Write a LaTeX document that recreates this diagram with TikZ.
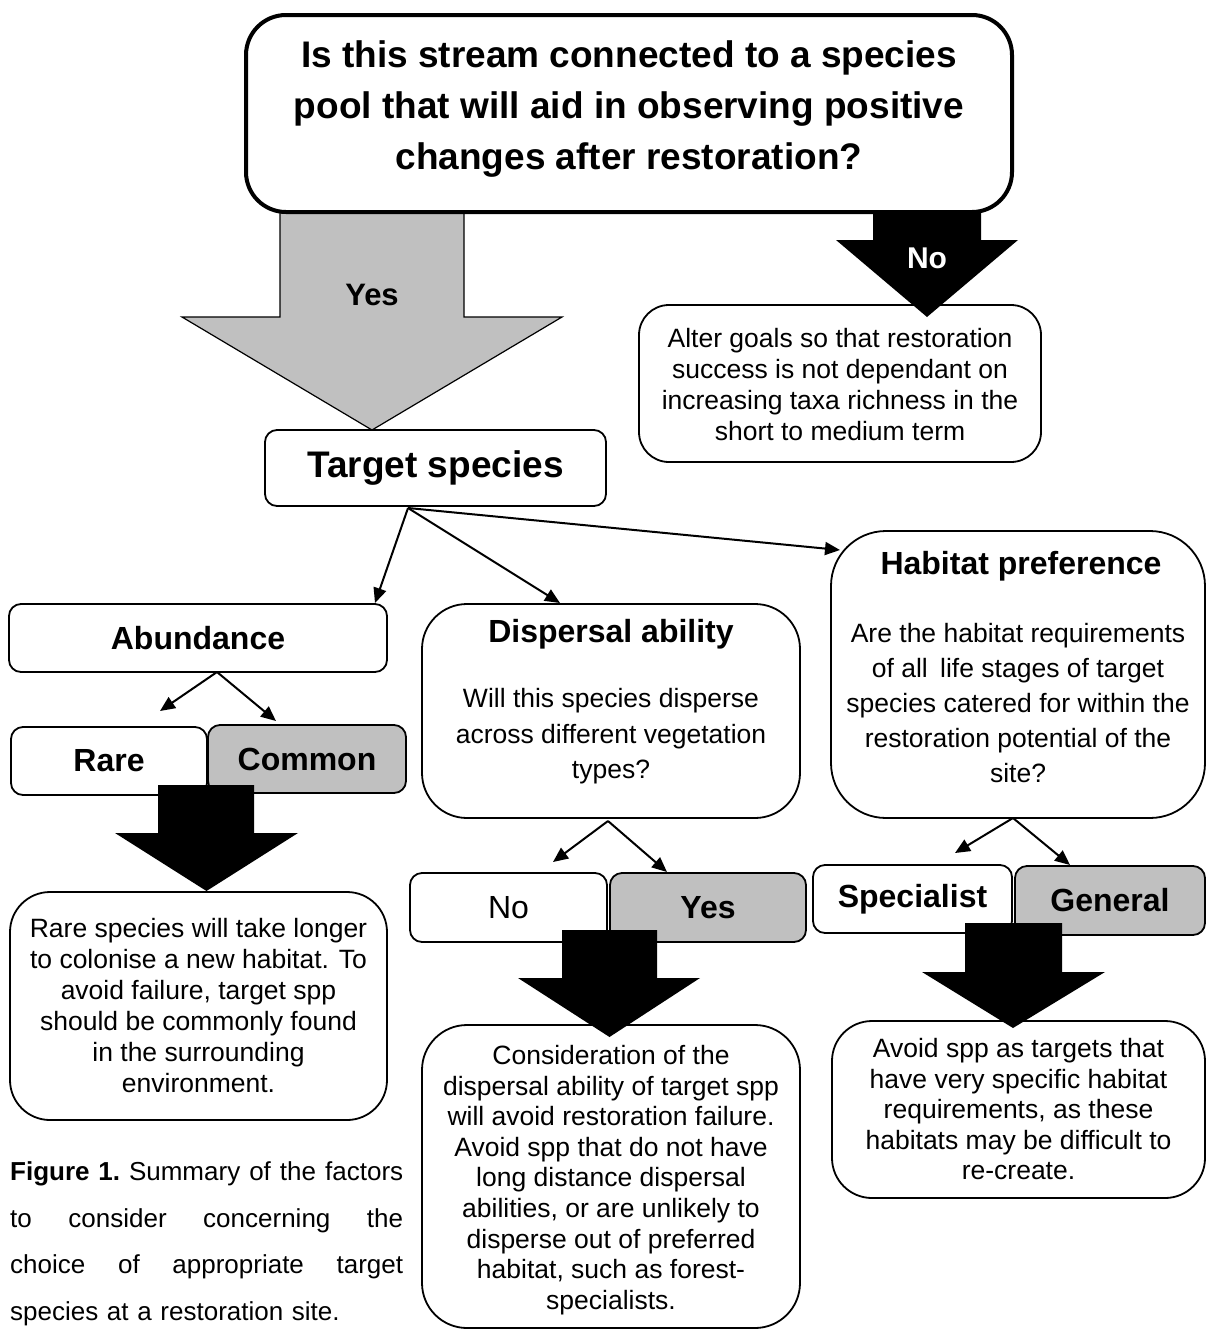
\documentclass[tikz,border=0pt]{standalone}
\usepackage{fontspec}
\setmainfont{Liberation Sans}
\usetikzlibrary{arrows.meta}
\definecolor{boxgray}{HTML}{C0C0C0}
\newcommand\fsz[2]{\fontsize{#1}{#2}\selectfont}
\newcommand\jsp{\hspace{5pt plus 1fill}}
\begin{document}
\begin{tikzpicture}[x=1pt,y=-1pt,
  box/.style={draw, line width=1.8pt, fill=white, rounded corners=12pt, inner sep=0pt},
  graybox/.style={box, fill=boxgray},
  txt/.style={align=center, inner sep=0pt},
  ttl/.style={txt, font=\bfseries\fsz{32}{38}},
  body/.style={txt, font=\fsz{26.5}{31}},
  conn/.style={line width=2pt, -{Triangle[length=15pt,width=13pt]}},
  blk/.style={fill=black},
]
\fill[white] (0,0) rectangle (1206,1331);
\useasboundingbox (0,0) rectangle (1206,1331);

% Yes arrow
\draw[line width=1.2pt, fill=boxgray] (280,212) -- (464,212) -- (464,317) -- (562,317) -- (372,430) -- (182,317) -- (280,317) -- cycle;
\node[txt, font=\bfseries\fsz{31}{36}] (yeslbl) at (372,295) {Yes};

% Alter goals box
\node[box, rounded corners=30pt, minimum width=402pt, minimum height=157pt] (alter) at (840,383.5) {};
\node[body] (altert) at (840,384.5) {Alter goals so that restoration\\success is not dependant on\\increasing taxa richness in the\\short to medium term};

% No arrow
\fill[blk] (873,211) -- (981,211) -- (981,240) -- (1018,240) -- (927,317) -- (836,240) -- (873,240) -- cycle;
\node[txt, font=\bfseries\fsz{30}{36}, text=white] (nolbl) at (927,258) {No};

% Top question box
\node[box, line width=4pt, rounded corners=40pt, minimum width=766pt, minimum height=197pt] (top) at (629,113.5) {};
\node[txt, font=\bfseries\fsz{37}{51}] (topt) at (629,109) {Is this stream connected to a species\\pool that will aid in observing positive\\changes after restoration?};

% Target species
\node[box, minimum width=341pt, minimum height=76pt, font=\bfseries\fsz{37}{44}] (target) at (435.5,468) {Target species};

% Abundance branch
\node[box, minimum width=378pt, minimum height=68pt, font=\bfseries\fsz{32}{38}] (abund) at (198,638) {Abundance};
\node[box, minimum width=196pt, minimum height=68pt, font=\bfseries\fsz{32}{38}] (rare) at (109,761) {Rare};
\node[graybox, minimum width=198pt, minimum height=68pt, font=\bfseries\fsz{32}{38}] (common) at (307,759) {Common};
\node[box, rounded corners=40pt, minimum width=377pt, minimum height=228pt] (rarebox) at (198.5,1006) {};
\node[body] (rareboxt) at (198.5,1005.5) {Rare species will take longer\\to colonise a new habitat. To\\avoid failure, target spp\\should be commonly found\\in the surrounding\\environment.};

% Dispersal branch
\node[box, rounded corners=45pt, minimum width=378pt, minimum height=214pt] (disp) at (611,711) {};
\node[ttl] (dispt) at (611,634) {Dispersal ability};
\node[txt, font=\fsz{26.5}{35.5}] (dispb) at (611,736.5) {Will this species disperse\\across different vegetation\\types?};
\node[box, minimum width=197pt, minimum height=69pt, font=\fsz{32}{38}] (no) at (508.5,907.5) {No};
\node[graybox, minimum width=196pt, minimum height=69pt, font=\bfseries\fsz{32}{38}] (yes) at (708,907.5) {Yes};
\node[box, rounded corners=45pt, minimum width=378pt, minimum height=303pt] (consider) at (611,1176.5) {};
\node[txt, font=\fsz{26.5}{30.6}] (considert) at (611,1180) {Consideration of the\\dispersal ability of target spp\\will avoid restoration failure.\\Avoid spp that do not have\\long distance dispersal\\abilities, or are unlikely to\\disperse out of preferred\\habitat, such as forest-\\specialists.};

% Habitat branch
\node[box, rounded corners=55pt, minimum width=374pt, minimum height=287pt] (habitat) at (1018,674.5) {};
\node[ttl] (habitatt) at (1021,566) {Habitat preference};
\node[txt, font=\fsz{26.5}{35}] (habitatb) at (1018,703.5) {Are the habitat requirements\\of all\hspace{5pt} life stages of target\\species catered for within the\\restoration potential of the\\site?};
\node[box, minimum width=199pt, minimum height=68pt, font=\bfseries\fsz{32}{38}] (spec) at (912.5,899) {Specialist};
\node[graybox, minimum width=190pt, minimum height=69pt, font=\bfseries\fsz{32}{38}] (gen) at (1110,900.5) {General};
\node[box, rounded corners=40pt, minimum width=373pt, minimum height=177pt] (avoid) at (1018.5,1109.5) {};
\node[txt, font=\fsz{26.5}{30.5}] (avoidt) at (1018.5,1109.5) {Avoid spp as targets that\\have very specific habitat\\requirements, as these\\habitats may be difficult to\\re-create.};

% Lower block arrows
\fill[blk] (158,785) -- (254,785) -- (254,833) -- (298,833) -- (206.5,891) -- (115,833) -- (158,833) -- cycle;
\fill[blk] (562,930) -- (657,930) -- (657,978) -- (700,978) -- (609.5,1037) -- (518,978) -- (562,978) -- cycle;
\fill[blk] (965,923) -- (1062,923) -- (1062,972) -- (1105,972) -- (1013,1028) -- (922,972) -- (965,972) -- cycle;

% Connectors
\coordinate (t0) at (408,508);
\coordinate (a1) at (375,603);
\coordinate (d1) at (560,603);
\coordinate (h1) at (840,550);
\draw[conn] (t0) -- (a1);
\draw[conn] (t0) -- (d1);
\draw[conn] (t0) -- (h1);

\coordinate (ab0) at (217,672);
\coordinate (ab1) at (160,711);
\coordinate (ab2) at (276,721);
\draw[conn] (ab0) -- (ab1);
\draw[conn] (ab0) -- (ab2);

\coordinate (dp0) at (608,821);
\coordinate (dp1) at (553,862);
\coordinate (dp2) at (667,872);
\draw[conn] (dp0) -- (dp1);
\draw[conn] (dp0) -- (dp2);

\coordinate (hb0) at (1013,818);
\coordinate (hb1) at (955,853);
\coordinate (hb2) at (1070,865);
\draw[conn] (hb0) -- (hb1);
\draw[conn] (hb0) -- (hb2);

% Caption
\node[anchor=north west, inner sep=0pt, text width=393pt, align=left, font=\fsz{26}{46.7}] (caption) at (10,1161.5)
 {\hbox to 393pt{\textbf{Figure 1.}\jsp Summary\jsp of\jsp the\jsp factors}
  \hbox to 393pt{to\jsp consider\jsp concerning\jsp the}
  \hbox to 393pt{choice\jsp of\jsp appropriate\jsp target}
  \hbox{species at a restoration site.}};
\end{tikzpicture}
\end{document}
